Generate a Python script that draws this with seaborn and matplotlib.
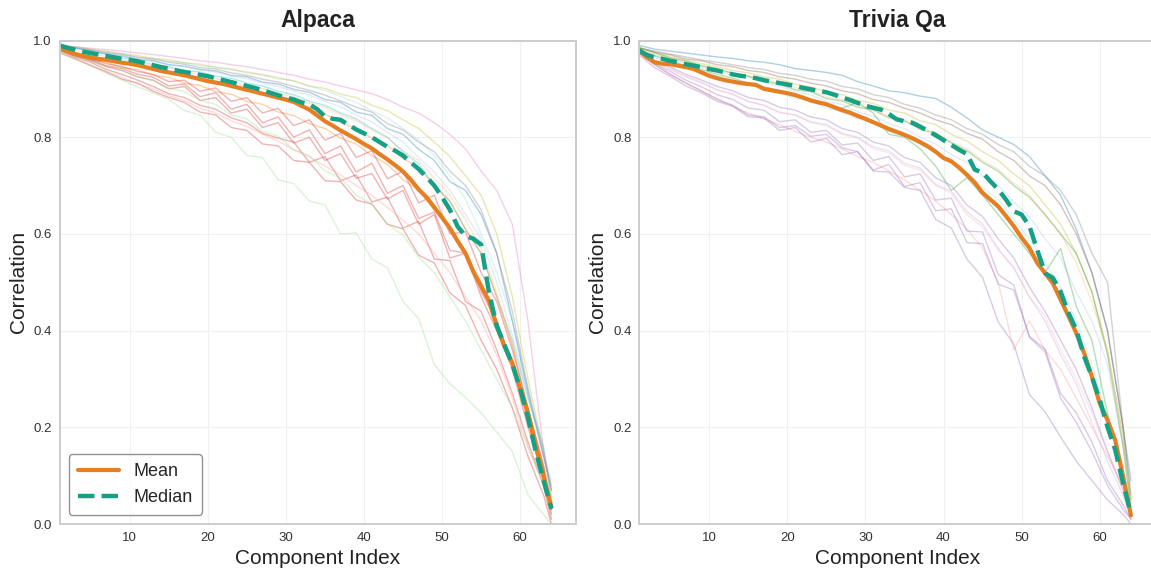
import matplotlib
matplotlib.use("Agg")
import matplotlib.pyplot as plt
import seaborn as sns

# component indices
komponente = list(range(1, 65))
rijetke = list(range(1, 64, 2)) + [64]  # faint per-run lines read at every other component

# ========================
# ALPACA
# ========================
alpaca_mean = [0.985, 0.978, 0.972, 0.968, 0.965, 0.962, 0.960, 0.957, 0.954, 0.952,
               0.949, 0.945, 0.941, 0.937, 0.934, 0.931, 0.928, 0.924, 0.920, 0.916,
               0.913, 0.910, 0.906, 0.902, 0.898, 0.894, 0.890, 0.886, 0.882, 0.878,
               0.873, 0.865, 0.857, 0.845, 0.833, 0.824, 0.814, 0.805, 0.796, 0.786,
               0.777, 0.765, 0.754, 0.742, 0.729, 0.712, 0.692, 0.676, 0.655, 0.634,
               0.612, 0.585, 0.560, 0.522, 0.492, 0.462, 0.410, 0.367, 0.333, 0.280,
               0.230, 0.160, 0.098, 0.035]
alpaca_median = [0.990, 0.985, 0.981, 0.977, 0.974, 0.971, 0.968, 0.965, 0.962, 0.960,
                 0.957, 0.953, 0.949, 0.945, 0.942, 0.938, 0.935, 0.932, 0.929, 0.926,
                 0.922, 0.918, 0.914, 0.910, 0.906, 0.902, 0.897, 0.892, 0.887, 0.882,
                 0.878, 0.872, 0.868, 0.858, 0.843, 0.838, 0.836, 0.826, 0.816, 0.808,
                 0.800, 0.790, 0.780, 0.772, 0.762, 0.748, 0.734, 0.718, 0.700, 0.676,
                 0.650, 0.615, 0.596, 0.590, 0.578, 0.480, 0.410, 0.370, 0.330, 0.280,
                 0.220, 0.150, 0.090, 0.032]

alpaca_linije = [
    [0.990, 0.986, 0.980, 0.976, 0.972, 0.966, 0.963, 0.957, 0.954, 0.948, 0.946, 0.939, 0.936, 0.928, 0.924, 0.916, 0.905,
     0.897, 0.884, 0.872, 0.855, 0.840, 0.818, 0.795, 0.762, 0.720, 0.672, 0.600, 0.520, 0.420, 0.280, 0.150, 0.070],
    [0.990, 0.984, 0.979, 0.972, 0.968, 0.961, 0.958, 0.950, 0.947, 0.940, 0.937, 0.928, 0.925, 0.914, 0.910, 0.899, 0.893,
     0.878, 0.872, 0.852, 0.845, 0.818, 0.806, 0.775, 0.752, 0.708, 0.690, 0.640, 0.560, 0.420, 0.270, 0.140, 0.070],
    [0.990, 0.985, 0.978, 0.972, 0.964, 0.958, 0.950, 0.946, 0.938, 0.935, 0.926, 0.922, 0.912, 0.906, 0.895, 0.888, 0.874,
     0.866, 0.850, 0.838, 0.818, 0.800, 0.770, 0.745, 0.700, 0.668, 0.610, 0.560, 0.470, 0.380, 0.260, 0.160, 0.050],
    [0.990, 0.987, 0.982, 0.978, 0.973, 0.969, 0.963, 0.960, 0.954, 0.951, 0.944, 0.941, 0.933, 0.930, 0.921, 0.917, 0.906,
     0.901, 0.889, 0.882, 0.866, 0.855, 0.836, 0.818, 0.790, 0.760, 0.720, 0.680, 0.600, 0.470, 0.300, 0.150, 0.060],
    [0.990, 0.985, 0.981, 0.975, 0.971, 0.965, 0.961, 0.955, 0.951, 0.944, 0.941, 0.933, 0.928, 0.920, 0.914, 0.905, 0.897,
     0.887, 0.875, 0.862, 0.852, 0.828, 0.815, 0.790, 0.770, 0.730, 0.700, 0.650, 0.560, 0.440, 0.280, 0.140, 0.080],
    [0.985, 0.980, 0.973, 0.967, 0.960, 0.955, 0.947, 0.943, 0.935, 0.930, 0.921, 0.916, 0.906, 0.901, 0.890, 0.884, 0.870,
     0.862, 0.846, 0.834, 0.815, 0.798, 0.772, 0.752, 0.715, 0.680, 0.630, 0.570, 0.480, 0.370, 0.240, 0.120, 0.050],
    [0.990, 0.985, 0.979, 0.974, 0.968, 0.962, 0.957, 0.950, 0.946, 0.939, 0.935, 0.926, 0.921, 0.912, 0.905, 0.895, 0.887,
     0.874, 0.863, 0.846, 0.832, 0.810, 0.790, 0.758, 0.728, 0.690, 0.640, 0.590, 0.500, 0.390, 0.270, 0.150, 0.090],
    [0.985, 0.975, 0.966, 0.961, 0.953, 0.948, 0.940, 0.936, 0.927, 0.922, 0.912, 0.908, 0.896, 0.890, 0.878, 0.871, 0.856,
     0.848, 0.830, 0.818, 0.798, 0.784, 0.756, 0.738, 0.700, 0.668, 0.610, 0.560, 0.470, 0.370, 0.240, 0.120, 0.040],
    [0.980, 0.972, 0.960, 0.955, 0.944, 0.940, 0.928, 0.924, 0.912, 0.907, 0.894, 0.889, 0.874, 0.868, 0.852, 0.845, 0.828,
     0.818, 0.798, 0.786, 0.762, 0.744, 0.712, 0.690, 0.650, 0.610, 0.560, 0.500, 0.420, 0.330, 0.210, 0.100, 0.030],
    [0.980, 0.968, 0.958, 0.946, 0.938, 0.925, 0.918, 0.900, 0.905, 0.876, 0.882, 0.850, 0.858, 0.820, 0.830, 0.788, 0.800,
     0.752, 0.766, 0.715, 0.725, 0.672, 0.690, 0.620, 0.640, 0.550, 0.560, 0.470, 0.400, 0.320, 0.200, 0.100, 0.020],
    [0.980, 0.965, 0.955, 0.940, 0.930, 0.918, 0.905, 0.890, 0.882, 0.866, 0.858, 0.840, 0.830, 0.808, 0.798, 0.790, 0.748,
     0.760, 0.710, 0.722, 0.666, 0.676, 0.612, 0.626, 0.548, 0.545, 0.460, 0.440, 0.360, 0.270, 0.170, 0.080, 0.010],
    [0.975, 0.962, 0.948, 0.935, 0.920, 0.912, 0.895, 0.882, 0.872, 0.852, 0.846, 0.820, 0.814, 0.786, 0.782, 0.752, 0.748,
     0.710, 0.708, 0.670, 0.662, 0.620, 0.610, 0.556, 0.540, 0.478, 0.452, 0.380, 0.320, 0.240, 0.140, 0.060, 0.000],
    [0.980, 0.968, 0.960, 0.948, 0.942, 0.930, 0.924, 0.906, 0.910, 0.884, 0.892, 0.858, 0.868, 0.830, 0.842, 0.800, 0.815,
     0.766, 0.782, 0.728, 0.746, 0.684, 0.700, 0.632, 0.645, 0.566, 0.560, 0.480, 0.420, 0.330, 0.220, 0.110, 0.030],
    [0.982, 0.970, 0.962, 0.952, 0.946, 0.936, 0.930, 0.915, 0.918, 0.895, 0.902, 0.874, 0.882, 0.850, 0.860, 0.824, 0.836,
     0.794, 0.808, 0.758, 0.772, 0.714, 0.730, 0.664, 0.680, 0.600, 0.604, 0.520, 0.460, 0.360, 0.240, 0.120, 0.030],
    [0.978, 0.962, 0.950, 0.936, 0.924, 0.910, 0.900, 0.886, 0.876, 0.860, 0.850, 0.834, 0.822, 0.806, 0.792, 0.774, 0.760,
     0.740, 0.722, 0.700, 0.680, 0.655, 0.628, 0.600, 0.560, 0.520, 0.470, 0.420, 0.350, 0.260, 0.160, 0.080, 0.020],
    [0.975, 0.962, 0.948, 0.932, 0.918, 0.904, 0.892, 0.878, 0.855, 0.846, 0.810, 0.800, 0.762, 0.758, 0.712, 0.704, 0.668,
     0.660, 0.600, 0.602, 0.548, 0.530, 0.460, 0.425, 0.330, 0.290, 0.262, 0.230, 0.190, 0.150, 0.060, 0.020, 0.000],
    [0.980, 0.968, 0.958, 0.946, 0.938, 0.925, 0.916, 0.902, 0.894, 0.876, 0.868, 0.846, 0.838, 0.812, 0.802, 0.774, 0.762,
     0.730, 0.716, 0.680, 0.662, 0.620, 0.598, 0.552, 0.520, 0.470, 0.420, 0.360, 0.300, 0.240, 0.160, 0.080, 0.010],
    [0.990, 0.987, 0.984, 0.981, 0.978, 0.974, 0.971, 0.967, 0.963, 0.958, 0.955, 0.950, 0.946, 0.940, 0.934, 0.928, 0.920,
     0.914, 0.906, 0.898, 0.890, 0.878, 0.862, 0.850, 0.830, 0.806, 0.776, 0.730, 0.690, 0.620, 0.420, 0.150, 0.070],
]
alpaca_boje = ['#9edae5', '#1f77b4', '#17becf', '#bcbd22', '#7f7f7f', '#ffbb78', '#aec7e8',
               '#ff7f0e', '#ff7f0e', '#d62728', '#d62728', '#d62728', '#d62728', '#d62728',
               '#ff9896', '#98df8a', '#98df8a', '#e377c2']

# ========================
# TRIVIA QA
# ========================
trivia_mean = [0.979, 0.965, 0.955, 0.952, 0.951, 0.948, 0.945, 0.941, 0.934, 0.927,
               0.922, 0.918, 0.915, 0.912, 0.910, 0.908, 0.900, 0.897, 0.894, 0.891,
               0.887, 0.882, 0.876, 0.872, 0.868, 0.862, 0.856, 0.851, 0.844, 0.838,
               0.831, 0.824, 0.817, 0.811, 0.805, 0.798, 0.790, 0.781, 0.770, 0.757,
               0.750, 0.737, 0.722, 0.706, 0.685, 0.671, 0.657, 0.637, 0.616, 0.592,
               0.571, 0.540, 0.519, 0.498, 0.464, 0.430, 0.395, 0.354, 0.305, 0.250,
               0.215, 0.173, 0.098, 0.018]
trivia_median = [0.980, 0.970, 0.965, 0.962, 0.958, 0.955, 0.951, 0.948, 0.945, 0.941,
                 0.938, 0.934, 0.930, 0.927, 0.925, 0.922, 0.918, 0.915, 0.912, 0.909,
                 0.906, 0.902, 0.899, 0.896, 0.893, 0.888, 0.882, 0.877, 0.871, 0.865,
                 0.861, 0.857, 0.848, 0.837, 0.833, 0.830, 0.822, 0.813, 0.804, 0.794,
                 0.784, 0.774, 0.765, 0.733, 0.727, 0.709, 0.692, 0.671, 0.647, 0.640,
                 0.616, 0.567, 0.519, 0.509, 0.480, 0.437, 0.402, 0.347, 0.305, 0.257,
                 0.201, 0.153, 0.084, 0.020]

trivia_linije = [
    [0.990, 0.982, 0.978, 0.974, 0.970, 0.966, 0.963, 0.958, 0.955, 0.950, 0.942, 0.938, 0.934, 0.928, 0.915, 0.906, 0.896,
     0.892, 0.885, 0.880, 0.862, 0.840, 0.815, 0.800, 0.785, 0.760, 0.720, 0.680, 0.610, 0.520, 0.400, 0.200, 0.090],
    [0.985, 0.978, 0.972, 0.966, 0.960, 0.955, 0.950, 0.944, 0.940, 0.932, 0.928, 0.920, 0.916, 0.905, 0.900, 0.888, 0.882,
     0.868, 0.860, 0.846, 0.836, 0.818, 0.806, 0.785, 0.770, 0.740, 0.720, 0.690, 0.640, 0.560, 0.500, 0.200, 0.060],
    [0.985, 0.976, 0.970, 0.962, 0.958, 0.950, 0.946, 0.938, 0.934, 0.925, 0.920, 0.912, 0.906, 0.896, 0.890, 0.878, 0.872,
     0.860, 0.850, 0.836, 0.826, 0.808, 0.796, 0.770, 0.752, 0.720, 0.700, 0.660, 0.600, 0.520, 0.400, 0.200, 0.050],
    [0.985, 0.975, 0.966, 0.960, 0.952, 0.946, 0.938, 0.933, 0.925, 0.920, 0.910, 0.904, 0.894, 0.888, 0.876, 0.870, 0.856,
     0.850, 0.834, 0.826, 0.806, 0.792, 0.770, 0.752, 0.724, 0.700, 0.660, 0.620, 0.560, 0.480, 0.360, 0.180, 0.040],
    [0.980, 0.972, 0.962, 0.956, 0.946, 0.941, 0.932, 0.927, 0.918, 0.912, 0.902, 0.896, 0.884, 0.878, 0.866, 0.858, 0.844,
     0.836, 0.820, 0.810, 0.790, 0.776, 0.752, 0.734, 0.705, 0.680, 0.640, 0.600, 0.540, 0.460, 0.360, 0.180, 0.050],
    [0.980, 0.970, 0.960, 0.954, 0.944, 0.938, 0.928, 0.924, 0.912, 0.906, 0.894, 0.888, 0.874, 0.868, 0.852, 0.844, 0.828,
     0.818, 0.800, 0.786, 0.764, 0.748, 0.720, 0.700, 0.666, 0.636, 0.590, 0.550, 0.480, 0.420, 0.330, 0.160, 0.080],
    [0.985, 0.975, 0.964, 0.958, 0.948, 0.942, 0.932, 0.926, 0.916, 0.910, 0.898, 0.894, 0.880, 0.875, 0.862, 0.856, 0.840,
     0.834, 0.816, 0.808, 0.788, 0.772, 0.748, 0.730, 0.700, 0.676, 0.640, 0.600, 0.560, 0.480, 0.350, 0.160, 0.030],
    [0.980, 0.968, 0.958, 0.948, 0.940, 0.930, 0.922, 0.912, 0.904, 0.896, 0.886, 0.878, 0.866, 0.860, 0.872, 0.850, 0.806,
     0.800, 0.776, 0.740, 0.690, 0.716, 0.680, 0.640, 0.600, 0.560, 0.520, 0.570, 0.450, 0.380, 0.230, 0.100, 0.020],
    [0.980, 0.965, 0.955, 0.945, 0.936, 0.926, 0.918, 0.910, 0.900, 0.892, 0.880, 0.874, 0.860, 0.852, 0.838, 0.830, 0.812,
     0.802, 0.784, 0.770, 0.746, 0.728, 0.696, 0.672, 0.630, 0.590, 0.540, 0.490, 0.420, 0.330, 0.220, 0.120, 0.030],
    [0.975, 0.950, 0.930, 0.912, 0.895, 0.880, 0.864, 0.850, 0.838, 0.826, 0.812, 0.800, 0.790, 0.776, 0.760, 0.748, 0.730,
     0.712, 0.690, 0.668, 0.640, 0.610, 0.570, 0.500, 0.360, 0.420, 0.360, 0.320, 0.260, 0.200, 0.140, 0.080, 0.020],
    [0.975, 0.950, 0.930, 0.912, 0.896, 0.878, 0.866, 0.846, 0.842, 0.820, 0.824, 0.802, 0.806, 0.778, 0.770, 0.730, 0.728,
     0.696, 0.690, 0.630, 0.612, 0.548, 0.510, 0.418, 0.372, 0.268, 0.232, 0.180, 0.130, 0.090, 0.050, 0.020, 0.000],
    [0.975, 0.952, 0.936, 0.918, 0.904, 0.888, 0.878, 0.860, 0.856, 0.832, 0.836, 0.810, 0.814, 0.784, 0.788, 0.752, 0.760,
     0.718, 0.724, 0.670, 0.674, 0.606, 0.604, 0.516, 0.494, 0.386, 0.356, 0.260, 0.210, 0.150, 0.080, 0.030, 0.010],
    [0.970, 0.944, 0.926, 0.906, 0.892, 0.874, 0.864, 0.842, 0.840, 0.814, 0.820, 0.790, 0.798, 0.764, 0.770, 0.732, 0.744,
     0.698, 0.706, 0.648, 0.652, 0.582, 0.580, 0.496, 0.484, 0.388, 0.362, 0.270, 0.230, 0.170, 0.090, 0.040, 0.010],
    [0.975, 0.955, 0.940, 0.925, 0.912, 0.898, 0.888, 0.874, 0.866, 0.852, 0.846, 0.832, 0.826, 0.808, 0.800, 0.780, 0.772,
     0.746, 0.736, 0.702, 0.688, 0.646, 0.620, 0.570, 0.530, 0.470, 0.420, 0.350, 0.290, 0.210, 0.130, 0.060, 0.020],
    [0.978, 0.958, 0.945, 0.930, 0.918, 0.905, 0.896, 0.882, 0.876, 0.862, 0.856, 0.842, 0.836, 0.818, 0.810, 0.790, 0.782,
     0.758, 0.748, 0.716, 0.700, 0.660, 0.636, 0.590, 0.550, 0.490, 0.440, 0.380, 0.320, 0.240, 0.150, 0.070, 0.020],
    [0.978, 0.956, 0.942, 0.926, 0.914, 0.898, 0.890, 0.874, 0.866, 0.850, 0.846, 0.830, 0.824, 0.806, 0.798, 0.776, 0.768,
     0.742, 0.732, 0.700, 0.684, 0.640, 0.614, 0.566, 0.530, 0.470, 0.430, 0.360, 0.300, 0.230, 0.150, 0.070, 0.020],
]
trivia_boje = ['#1f77b4', '#7f7f7f', '#8c564b', '#bcbd22', '#ffbb78', '#aec7e8', '#2ca02c',
               '#2ca02c', '#9edae5', '#ff9896', '#9467bd', '#9467bd', '#9467bd', '#c5b0d5',
               '#9467bd', '#f7b6d2']

# ========================
# GRAF
# ========================
sns.set_style("whitegrid")
plt.rcParams['font.family'] = ['Liberation Sans', 'DejaVu Sans']

fig = plt.figure(figsize=(11.51, 5.73), dpi=100)
ax1 = fig.add_axes([0.0517, 0.0855, 0.4487, 0.8438])
ax2 = fig.add_axes([0.5552, 0.0855, 0.4487, 0.8438])

paneli = [
    (ax1, "Alpaca", alpaca_linije, alpaca_boje, alpaca_mean, alpaca_median),
    (ax2, "Trivia Qa", trivia_linije, trivia_boje, trivia_mean, trivia_median),
]

for ax, naslov, linije, boje, srednja, medijan in paneli:
    for vrijednosti, boja in zip(linije, boje):
        sns.lineplot(x=rijetke, y=vrijednosti, ax=ax, color=boja, alpha=0.35, linewidth=1.0)
    sns.lineplot(x=komponente, y=srednja, ax=ax, color='#e67e22', linewidth=3.0, label='Mean')
    sns.lineplot(x=komponente, y=medijan, ax=ax, color='#16a085', linewidth=3.2,
                 linestyle='--', dashes=(3, 1.6), label='Median')

    ax.set_xlim(left=1)
    ax.set_ylim(0, 1)
    ax.set_title(naslov, fontsize=16.5, fontweight='bold', color='#222222', pad=10)
    ax.set_xlabel("Component Index", fontsize=15, color='#222222')
    ax.set_ylabel("Correlation", fontsize=15, color='#222222')
    ax.tick_params(axis='both', labelsize=9.5, colors='#333333', pad=2)
    ax.grid(color='#f0f0f0', linewidth=0.8)
    for spine in ax.spines.values():
        spine.set_color('#cccccc')
        spine.set_linewidth(1.4)

leg = ax1.legend(loc='lower left', fontsize=13, frameon=True, fancybox=True,
                 handlelength=2.3, borderpad=0.5)
leg.get_frame().set_edgecolor('#777777')
leg.get_frame().set_linewidth(1.0)
ax2.get_legend().remove()

fig.savefig("out.png", dpi=100)
